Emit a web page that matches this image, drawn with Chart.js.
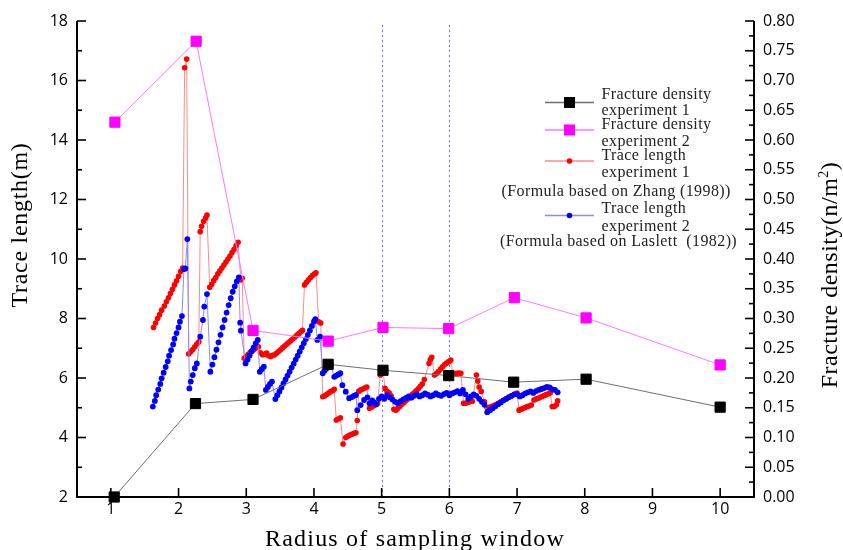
<!DOCTYPE html>
<html><head><meta charset="utf-8">
<script src="https://cdn.jsdelivr.net/npm/chart.js@4/dist/chart.umd.min.js"></script>
<style>html,body{margin:0;padding:0;background:#fff;overflow:hidden}canvas{display:block}</style>
</head><body>
<canvas id="c" width="843" height="550"></canvas>
<script>
// ---------- data ----------
const xTicks = [1,2,3,4,5,6,7,8,9,10];
const leftTicks = [2,4,6,8,10,12,14,16,18];
const leftMinor = [3,5,7,9,11,13,15,17];
const rightTicks = [0,0.05,0.10,0.15,0.20,0.25,0.30,0.35,0.40,0.45,0.50,0.55,0.60,0.65,0.70,0.75,0.80];
const rightMinor = [0.025,0.075,0.125,0.175,0.225,0.275,0.325,0.375,0.425,0.475,0.525,0.575,0.625,0.675,0.725,0.775];
const refLines = [5,6];

const densityX1 = [1.05,2.25,3.10,4.21,5.02,5.99,6.95,8.02,10.0];
const densityY1 = [0.000,0.157,0.164,0.223,0.213,0.204,0.193,0.198,0.151];
const densityX2 = [1.06,2.26,3.10,4.21,5.02,5.99,6.96,8.02,10.0];
const densityY2 = [0.630,0.766,0.280,0.262,0.285,0.283,0.335,0.301,0.222];

const traceLength1 = [
[1.63,7.70],[1.66,7.85],[1.69,8.00],[1.72,8.13],[1.75,8.28],[1.79,8.42],[1.82,8.56],[1.85,8.70],[1.88,8.84],[1.91,8.98],[1.94,9.13],[1.97,9.27],[2.00,9.42],[2.03,9.58],[2.06,9.70],
[2.09,16.43],[2.12,16.72],
[2.15,6.81],[2.18,6.88],[2.21,6.96],[2.24,7.05],[2.27,7.14],[2.30,7.22],
[2.32,10.92],[2.34,11.10],[2.37,11.27],[2.40,11.38],[2.42,11.48],
[2.46,9.05],[2.49,9.15],[2.52,9.28],[2.55,9.38],[2.58,9.50],[2.61,9.60],[2.64,9.70],[2.67,9.80],[2.70,9.90],[2.73,10.00],[2.76,10.10],[2.79,10.22],[2.82,10.33],[2.85,10.45],[2.88,10.56],
[2.92,9.30],[2.94,9.35],
[2.97,6.66],[3.00,6.72],[3.03,6.80],[3.06,6.86],[3.09,6.92],[3.12,6.97],[3.15,7.02],[3.18,7.05],
[3.21,6.85],[3.24,6.78],[3.27,6.80],[3.30,6.84],[3.33,6.75],[3.36,6.72],[3.39,6.76],[3.42,6.78],
[3.45,6.84],[3.48,6.90],[3.51,6.96],[3.54,7.02],[3.57,7.08],[3.60,7.14],[3.63,7.20],[3.66,7.26],[3.69,7.32],[3.72,7.38],[3.75,7.44],[3.78,7.50],[3.81,7.56],[3.83,7.60],
[3.86,9.13],[3.89,9.22],[3.92,9.30],[3.95,9.38],[3.98,9.45],[4.01,9.50],[4.03,9.54],
[4.07,7.89],[4.10,7.85],
[4.13,5.37],[4.16,5.40],[4.19,5.45],[4.22,5.50],[4.25,5.55],[4.28,5.58],[4.30,5.62],
[4.33,4.59],[4.36,4.62],[4.39,4.66],
[4.43,3.78],[4.47,4.00],[4.50,4.04],[4.53,4.08],[4.56,4.11],[4.59,4.14],[4.62,4.16],
[4.64,4.57],[4.66,5.55],[4.69,5.60],[4.72,5.63],[4.75,5.66],[4.78,5.70],
[4.82,4.98],[4.85,5.02],[4.88,5.06],[4.91,5.10],[4.94,5.14],
[4.98,6.10],[5.00,6.21],[5.02,6.27],
[5.05,5.65],[5.08,5.55],[5.11,5.50],[5.14,5.40],
[5.18,4.95],[5.21,4.92],[5.24,4.98],[5.27,5.05],[5.30,5.12],[5.33,5.18],[5.36,5.24],[5.39,5.30],[5.42,5.37],[5.45,5.44],[5.48,5.50],[5.51,5.57],[5.54,5.64],[5.57,5.72],[5.60,5.80],[5.63,5.95],
[5.70,6.49],[5.72,6.62],[5.74,6.70],
[5.78,6.10],[5.81,6.15],[5.84,6.22],[5.87,6.30],[5.90,6.38],[5.93,6.45],[5.96,6.50],[5.99,6.55],[6.02,6.60],
[6.05,6.16],[6.08,6.15],[6.11,6.16],[6.14,6.17],[6.17,6.16],
[6.21,5.15],[6.24,5.15],[6.27,5.18],[6.30,5.20],[6.34,5.22],
[6.40,6.10],[6.42,5.90],[6.44,5.70],[6.47,5.55],
[6.52,5.20],[6.56,4.98],[6.60,5.02],[6.64,5.06],[6.68,5.10],[6.72,5.15],[6.76,5.20],[6.80,5.25],[6.84,5.30],[6.88,5.35],[6.92,5.40],[6.96,5.45],[7.00,5.49],
[7.03,4.92],[7.06,4.95],[7.09,4.98],[7.12,5.01],[7.15,5.04],[7.18,5.06],[7.21,5.09],
[7.25,5.26],[7.28,5.29],[7.31,5.32],[7.34,5.35],[7.37,5.38],[7.40,5.41],[7.43,5.44],[7.46,5.47],[7.49,5.50],
[7.52,5.04],[7.55,5.04],[7.58,5.10],[7.60,5.23]
];

const traceLength2 = [
[1.62,5.04],[1.65,5.23],[1.67,5.42],[1.70,5.61],[1.73,5.80],[1.75,5.99],[1.78,6.18],[1.81,6.37],[1.84,6.56],[1.86,6.75],[1.89,6.94],[1.92,7.13],[1.94,7.32],[1.97,7.51],[2.00,7.70],[2.02,7.89],[2.05,8.08],
[2.08,9.66],[2.10,9.68],[2.13,10.67],
[2.16,5.65],[2.18,5.88],[2.21,6.10],[2.24,6.33],[2.27,6.49],
[2.32,7.39],[2.36,7.95],[2.38,8.40],[2.42,8.82],
[2.47,6.21],[2.50,6.45],[2.53,6.70],[2.56,6.95],[2.59,7.20],[2.62,7.45],[2.65,7.70],[2.68,7.95],[2.71,8.20],[2.74,8.45],[2.77,8.68],[2.80,8.90],[2.83,9.08],[2.86,9.25],[2.89,9.38],
[2.91,7.86],[2.92,7.59],
[2.99,6.49],[3.02,6.62],[3.05,6.76],[3.08,6.90],[3.11,7.03],[3.14,7.16],[3.17,7.28],
[3.20,6.21],[3.23,6.30],[3.26,6.38],
[3.29,5.60],[3.32,5.70],[3.35,5.80],[3.38,5.88],
[3.43,5.29],[3.46,5.42],[3.49,5.55],[3.52,5.68],[3.55,5.82],[3.58,5.95],[3.61,6.08],[3.64,6.21],[3.67,6.35],[3.70,6.48],[3.73,6.62],[3.76,6.75],[3.79,6.89],[3.82,7.03],[3.85,7.17],[3.88,7.31],[3.91,7.45],[3.94,7.60],[3.97,7.75],[4.00,7.90],[4.02,7.98],
[4.05,7.28],[4.09,7.39],
[4.13,6.16],[4.16,6.25],[4.19,6.33],[4.22,6.40],[4.25,6.45],
[4.30,6.04],[4.33,6.08],[4.36,6.12],[4.39,6.16],
[4.42,5.76],[4.47,5.54],
[4.52,5.32],[4.56,5.36],[4.59,5.40],[4.62,5.43],
[4.64,4.92],[4.69,5.09],[4.74,5.26],[4.79,5.35],
[4.82,5.15],[4.86,5.25],[4.89,5.18],[4.92,5.12],[4.96,5.30],[5.00,5.38],[5.04,5.30],[5.08,5.42],[5.12,5.35],[5.16,5.28],[5.20,5.20],[5.24,5.15],[5.28,5.22],[5.32,5.28],[5.36,5.33],[5.40,5.38],[5.44,5.34],[5.48,5.40],[5.52,5.45],[5.56,5.38],[5.60,5.42],[5.64,5.48],[5.68,5.44],[5.72,5.38],[5.76,5.42],[5.80,5.48],[5.84,5.43],[5.88,5.40],[5.92,5.46],[5.96,5.50],[6.00,5.42],[6.04,5.48],[6.08,5.52],[6.12,5.56],[6.16,5.48],[6.20,5.60],[6.24,5.45],[6.28,5.30],[6.32,5.38],[6.36,5.45],[6.40,5.40],[6.44,5.30],[6.48,5.20],[6.52,5.10],[6.56,4.85],
[6.60,4.92],[6.64,4.98],[6.68,5.05],[6.72,5.12],[6.76,5.18],[6.80,5.25],[6.84,5.30],[6.88,5.36],[6.92,5.40],[6.96,5.45],[7.00,5.45],[7.04,5.38],[7.08,5.42],[7.12,5.48],[7.16,5.52],[7.20,5.55],[7.24,5.50],[7.28,5.56],[7.32,5.60],[7.36,5.63],[7.40,5.66],[7.44,5.70],[7.48,5.68],[7.52,5.62],[7.56,5.60],[7.60,5.52]
];

const legendItems = [
  {lines:['Fracture density','experiment 1'], color:'#000000', line:'#6e6e6e', style:'rect'},
  {lines:['Fracture density','experiment 2'], color:'#ff00ff', line:'#ff77ff', style:'rect'},
  {lines:['Trace length','experiment 1','(Formula based on Zhang (1998))'], color:'#ff0000', line:'#ff8a8a', style:'circle'},
  {lines:['Trace length','experiment 2','(Formula based on Laslett  (1982))'], color:'#0000ff', line:'#8a8aff', style:'circle'}
];

// ---------- chart ----------
const tickFont = {family:'"Open Sans"', size:16};
const serif = '"Liberation Serif", "Times New Roman", serif';

const decor = {
  id:'decor',
  beforeDatasetsDraw(chart){
    const {ctx, chartArea:a, scales:{x}} = chart;
    ctx.save();
    ctx.strokeStyle = '#6c6cff'; ctx.lineWidth = 1; ctx.setLineDash([2,3]);
    refLines.forEach(v=>{
      const px = Math.round(x.getPixelForValue(v)) + 0.5;
      ctx.beginPath(); ctx.moveTo(px, a.top + 4); ctx.lineTo(px, a.bottom); ctx.stroke();
    });
    ctx.restore();
  },
  afterDraw(chart){
    const {ctx, chartArea:a, scales:{x, y, y2}} = chart;
    ctx.save();
    ctx.strokeStyle = '#000'; ctx.lineWidth = 2; ctx.setLineDash([]);
    ctx.beginPath();
    ctx.moveTo(a.left, a.top); ctx.lineTo(a.left, a.bottom); ctx.lineTo(a.right, a.bottom); ctx.lineTo(a.right, a.top);
    ctx.stroke();
    ctx.lineWidth = 1.6;
    const seg = (x1,y1,x2,y2)=>{ctx.beginPath();ctx.moveTo(x1,y1);ctx.lineTo(x2,y2);ctx.stroke();};
    xTicks.forEach(v=>{const p=x.getPixelForValue(v); seg(p,a.bottom,p,a.bottom-9);});
    leftTicks.forEach(v=>{const p=y.getPixelForValue(v); seg(a.left,p,a.left+9,p);});
    leftMinor.forEach(v=>{const p=y.getPixelForValue(v); seg(a.left,p,a.left+5,p);});
    rightTicks.forEach(v=>{const p=y2.getPixelForValue(v); seg(a.right,p,a.right-9,p);});
    rightMinor.forEach(v=>{const p=y2.getPixelForValue(v); seg(a.right,p,a.right-5,p);});

    ctx.fillStyle = '#000';
    ctx.font = '24px ' + serif;
    ctx.letterSpacing = '1.2px';
    ctx.textAlign = 'center'; ctx.textBaseline = 'alphabetic';
    ctx.fillText('Radius of sampling window', 415, 546);

    ctx.letterSpacing = '0.7px';
    ctx.save();
    ctx.translate(21, 225); ctx.rotate(-Math.PI/2);
    ctx.textBaseline = 'middle'; ctx.textAlign = 'center';
    ctx.fillText('Trace length(m)', 0, 0);
    ctx.restore();

    ctx.save();
    ctx.translate(831, 275); ctx.rotate(-Math.PI/2);
    ctx.textBaseline = 'middle'; ctx.textAlign = 'left';
    ctx.letterSpacing = '0.5px';
    ctx.font = '24px ' + serif;
    const p1 = 'Fracture density(n/m', p3 = ')';
    const w1 = ctx.measureText(p1).width, w3 = ctx.measureText(p3).width;
    ctx.font = '14px ' + serif;
    const ws = ctx.measureText('2').width;
    let sx = -(w1 + ws + w3) / 2;
    ctx.font = '24px ' + serif;
    ctx.fillText(p1, sx, 0);
    ctx.font = '14px ' + serif;
    ctx.fillText('2', sx + w1, -7);
    ctx.font = '24px ' + serif;
    ctx.fillText(p3, sx + w1 + ws, 0);
    ctx.restore();

    const textRows = [[94.5,110.5],[125,142],[155.5,172.5,191.5],[209,226.5,242]];
    const markY = [102.5,130,161,215.5];
    const formulaX = [null,null,501.5,500];
    ctx.font = '16px ' + serif;
    ctx.letterSpacing = '0.4px';
    ctx.textAlign = 'left'; ctx.textBaseline = 'middle';
    legendItems.forEach((it,i)=>{
      ctx.strokeStyle = it.line; ctx.lineWidth = 1.5;
      seg(545, markY[i], 594, markY[i]);
      ctx.fillStyle = it.color;
      if (it.style === 'rect') { ctx.fillRect(564, markY[i]-5.5, 11, 11); }
      else { ctx.beginPath(); ctx.arc(569.5, markY[i], 2.8, 0, Math.PI*2); ctx.fill(); }
      ctx.fillStyle = '#222';
      it.lines.forEach((t,j)=>{
        const xx = (j === 2) ? formulaX[i] : 601.5;
        ctx.fillText(t, xx, textRows[i][j]);
      });
    });
    ctx.restore();
  }
};

function pts(xs, ys){ return xs.map((v,i)=>({x:v, y:ys[i]})); }
function pairs(arr){ return arr.map(p=>({x:p[0], y:p[1]})); }

new Chart(document.getElementById('c'), {
  type:'line',
  data:{ datasets:[
    {label:'Fracture density experiment 1', data:pts(densityX1, densityY1), yAxisID:'y2',
     borderColor:'#6e6e6e', borderWidth:1, backgroundColor:'#000', pointStyle:'rect', pointRadius:7.2,
     pointBorderColor:'#000', pointBorderWidth:1, pointBackgroundColor:'#000', order:0, clip:false},
    {label:'Fracture density experiment 2', data:pts(densityX2, densityY2), yAxisID:'y2',
     borderColor:'#ff77ff', borderWidth:1, backgroundColor:'#ff00ff', pointStyle:'rect', pointRadius:7.2,
     pointBorderColor:'#ff00ff', pointBorderWidth:1, pointBackgroundColor:'#ff00ff', order:1, clip:false},
    {label:'Trace length experiment 2', data:pairs(traceLength2), yAxisID:'y',
     borderColor:'#8a8aff', borderWidth:1, pointStyle:'circle', pointRadius:2.9, pointBorderWidth:0,
     pointBackgroundColor:'#0000ff', backgroundColor:'#0000ff', order:2},
    {label:'Trace length experiment 1', data:pairs(traceLength1), yAxisID:'y',
     borderColor:'#ff8a8a', borderWidth:1, pointStyle:'circle', pointRadius:2.8, pointBorderWidth:0,
     pointBackgroundColor:'#ff0000', backgroundColor:'#ff0000', order:3}
  ]},
  options:{
    responsive:false, animation:false, devicePixelRatio:1,
    layout:{padding:{top:21, left:0, right:0, bottom:0}},
    plugins:{legend:{display:false}, tooltip:{enabled:false}},
    elements:{line:{tension:0}},
    scales:{
      x:{type:'linear', min:0.5, max:10.5,
         afterBuildTicks:s=>{s.ticks = xTicks.map(v=>({value:v}));},
         afterFit:s=>{s.height = 53;},
         grid:{display:false, drawTicks:false}, border:{display:false},
         ticks:{font:tickFont, color:'#000', padding:3, autoSkip:false, maxRotation:0, callback:v=>String(v)}},
      y:{type:'linear', position:'left', min:2, max:18,
         afterBuildTicks:s=>{s.ticks = leftTicks.map(v=>({value:v}));},
         afterFit:s=>{s.width = 77;},
         grid:{display:false, drawTicks:false}, border:{display:false},
         ticks:{font:tickFont, color:'#000', padding:9, autoSkip:false, callback:v=>String(v)}},
      y2:{type:'linear', position:'right', min:0, max:0.8,
         afterBuildTicks:s=>{s.ticks = rightTicks.map(v=>({value:v}));},
         afterFit:s=>{s.width = 89;},
         grid:{display:false, drawTicks:false}, border:{display:false},
         ticks:{font:tickFont, color:'#000', padding:9, autoSkip:false, callback:v=>Number(v).toFixed(2)}}
    }
  },
  plugins:[decor]
});
</script>
</body></html>
